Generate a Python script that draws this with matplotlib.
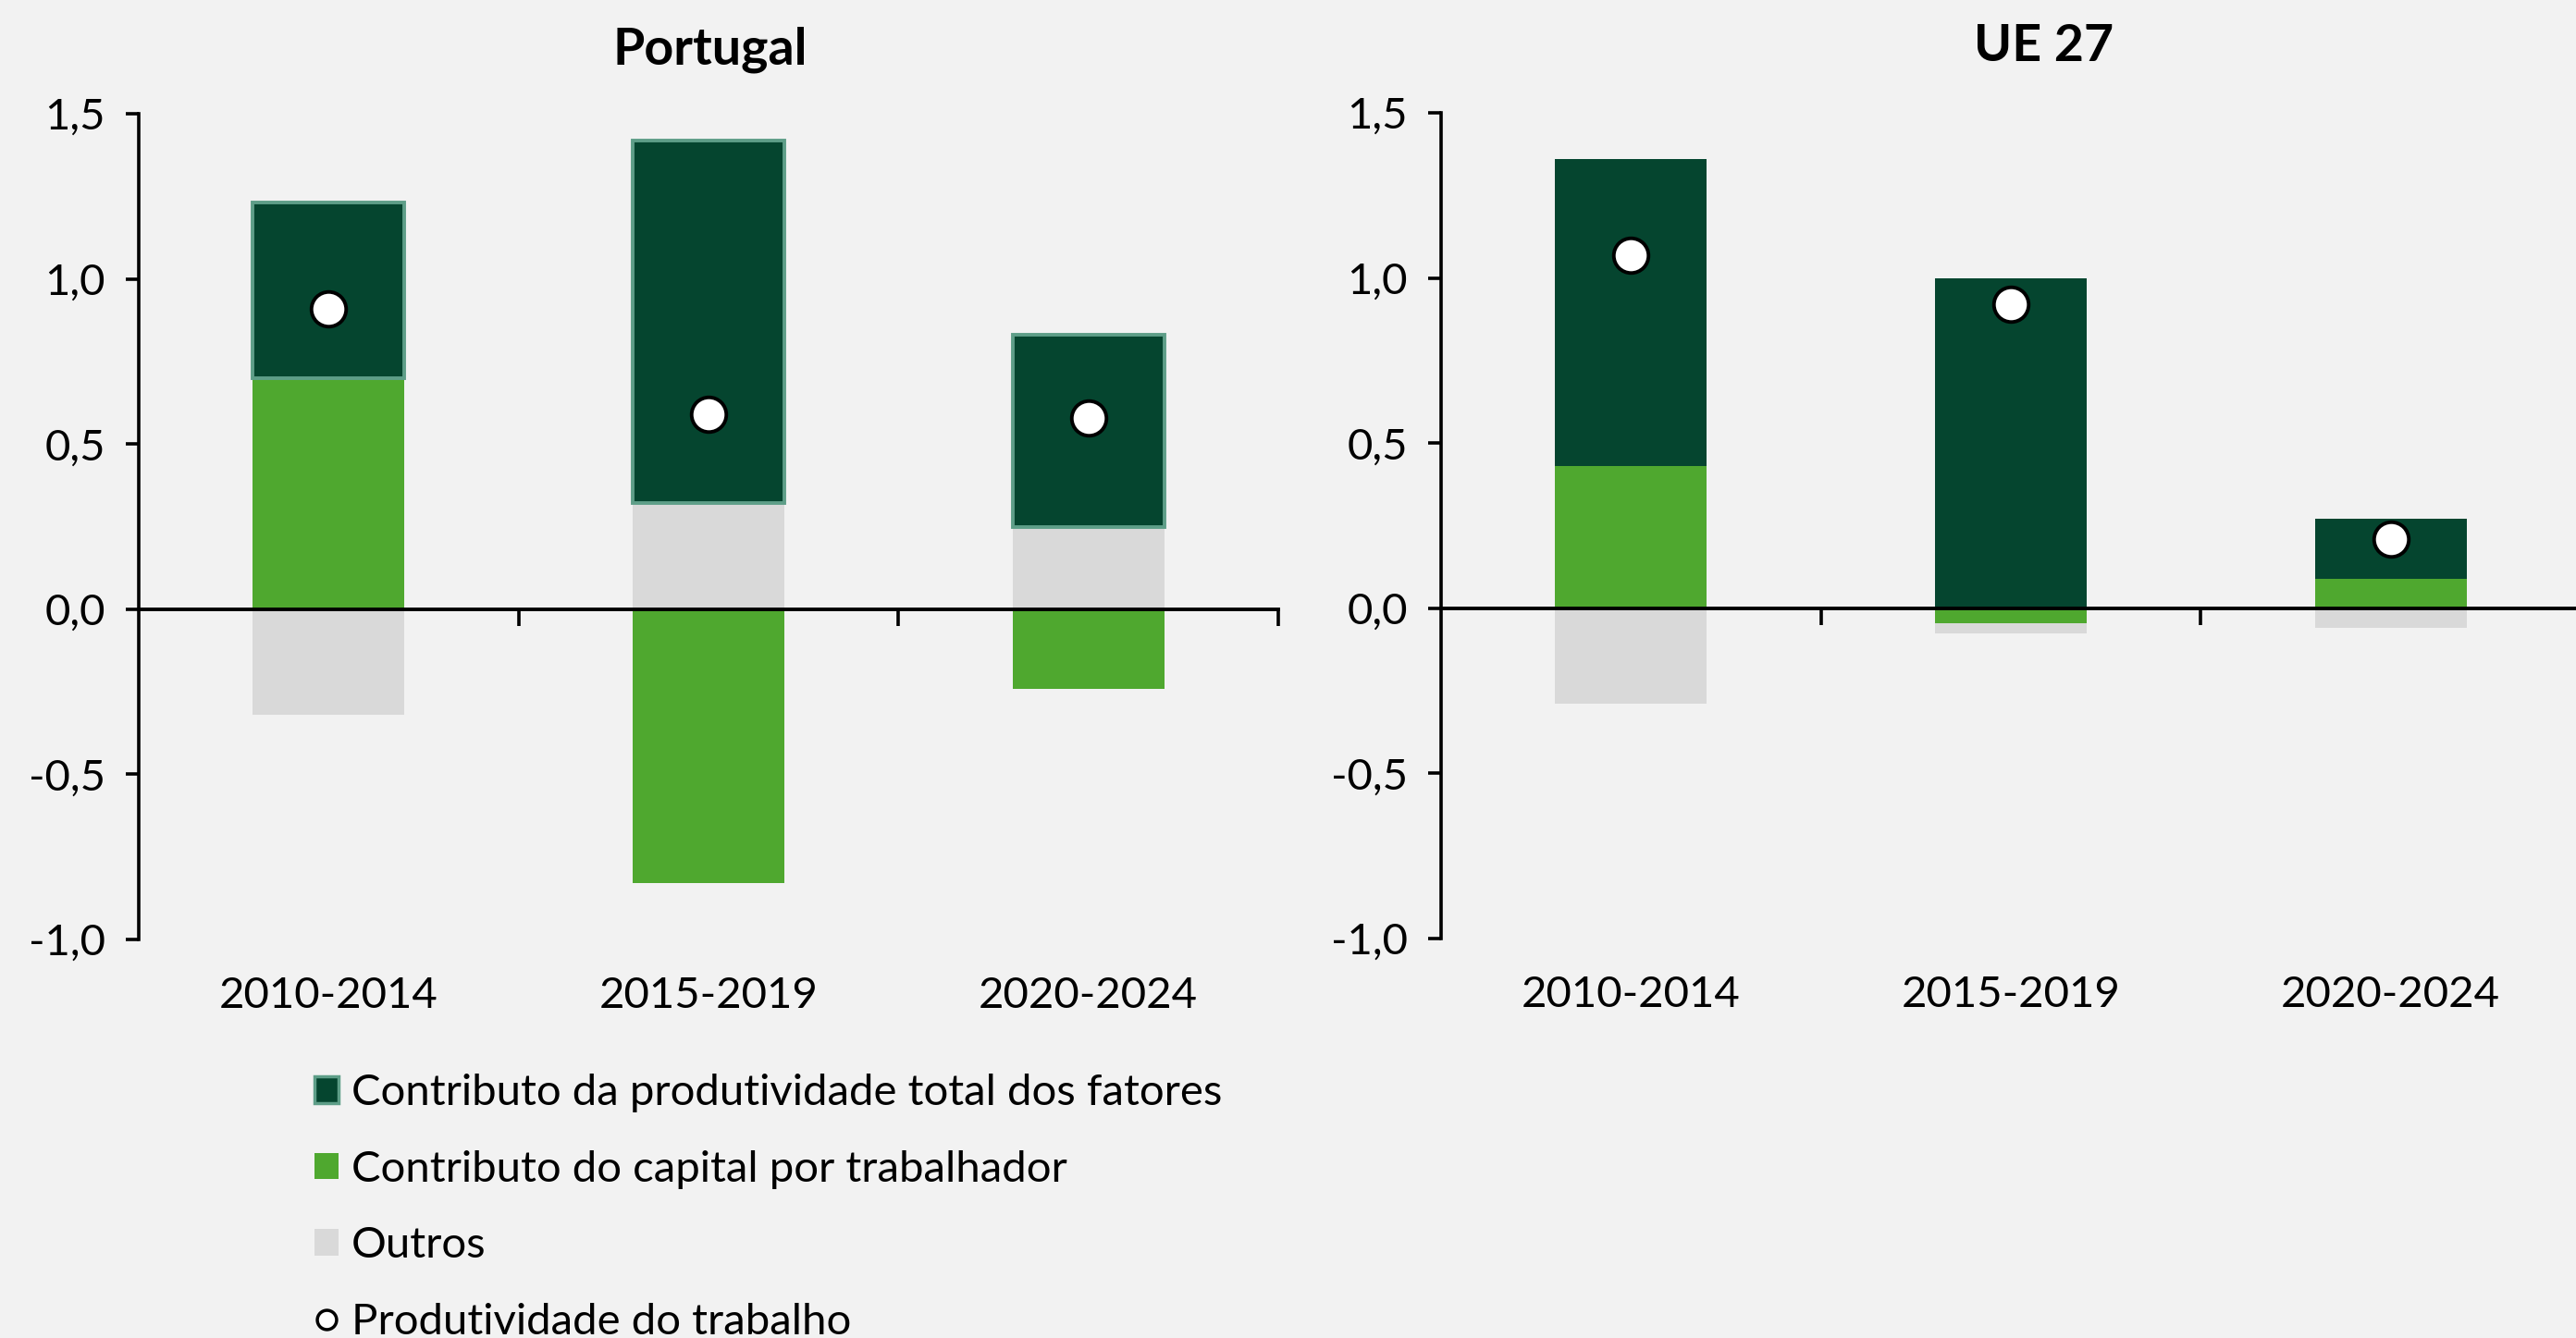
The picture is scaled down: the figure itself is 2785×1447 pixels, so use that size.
import matplotlib
matplotlib.use('Agg')
import matplotlib.pyplot as plt
from matplotlib.patches import Patch
from matplotlib.lines import Line2D
import numpy as np

# ---------------- data ----------------
periods = ['2010-2014', '2015-2019', '2020-2024']

pt_tfp = [0.53, 1.10, 0.58]
pt_cap = [0.70, -0.83, -0.24]
pt_out = [-0.32, 0.32, 0.25]
pt_prod = [0.91, 0.59, 0.58]

ue_tfp = [0.93, 1.00, 0.18]
ue_cap = [0.43, -0.045, 0.09]
ue_out = [-0.29, -0.03, -0.06]
ue_prod = [1.07, 0.92, 0.21]

yticks = [-1.0, -0.5, 0.0, 0.5, 1.0, 1.5]
ytick_labels = ['-1,0', '-0,5', '0,0', '0,5', '1,0', '1,5']

titles = ['Portugal', 'UE 27']
legend_labels = ['Contributo da produtividade total dos fatores',
                 'Contributo do capital por trabalhador',
                 'Outros',
                 'Produtividade do trabalho']

# ---------------- style ----------------
BG = '#f2f2f2'
C_TFP = '#05452f'
C_TFP_EDGE = '#5e9e88'
C_CAP = '#4fa82f'
C_OUT = '#d9d9d9'
FONT = ['Lato', 'DejaVu Sans']
FS = 34

plt.rcParams['font.family'] = FONT

fig = plt.figure(figsize=(27.85, 14.47), dpi=100, facecolor=BG)

ax_pt = fig.add_axes([150 / 2785, 1 - 1016 / 1447, 1232 / 2785, (1016 - 123) / 1447])
ax_ue = fig.add_axes([1558 / 2785, 1 - 1015 / 1447, 1232 / 2785, (1015 - 122) / 1447])


def draw(ax, tfp, cap, out, prod, tfp_edge):
    x = np.arange(len(periods))
    pos = np.zeros(len(periods))
    neg = np.zeros(len(periods))
    series = [(cap, C_CAP, 'none', 0), (out, C_OUT, 'none', 0),
              (tfp, C_TFP, tfp_edge, 2.8 if tfp_edge != 'none' else 0)]
    for vals, col, ec, lw in series:
        v = np.array(vals, dtype=float)
        bottom = np.where(v >= 0, pos, neg)
        ax.bar(x, v, bottom=bottom, width=0.4, color=col, edgecolor=ec,
               linewidth=lw, zorder=2)
        pos = pos + np.where(v >= 0, v, 0)
        neg = neg + np.where(v < 0, v, 0)
    ax.plot(x, prod, linestyle='none', marker='o', markersize=27,
            markerfacecolor='white', markeredgecolor='black',
            markeredgewidth=2.8, zorder=4)

    ax.set_facecolor('none')
    ax.set_xlim(-0.5, 2.5)
    ax.set_ylim(-1.0, 1.5)
    for s in ['top', 'right']:
        ax.spines[s].set_visible(False)
    ax.spines['bottom'].set_position(('data', 0))
    ax.spines['bottom'].set_linewidth(2.8)
    ax.spines['bottom'].set_zorder(3)
    ax.spines['left'].set_linewidth(2.6)

    ax.set_yticks(yticks)
    ax.set_yticklabels(ytick_labels)
    ax.tick_params(axis='y', direction='out', length=10, width=2.6,
                   labelsize=FS, pad=16)
    ax.set_xticks([])
    ax.set_xticks([0.5, 1.5, 2.5], minor=True)
    ax.tick_params(axis='x', which='minor', direction='out', length=13,
                   width=2.6, labelbottom=False)

    sec = ax.secondary_xaxis(0)
    sec.set_xticks(np.arange(len(periods)))
    sec.set_xticklabels(periods)
    sec.tick_params(length=0, labelsize=FS, pad=29)
    sec.spines['bottom'].set_visible(False)


draw(ax_pt, pt_tfp, pt_cap, pt_out, pt_prod, C_TFP_EDGE)
draw(ax_ue, ue_tfp, ue_cap, ue_out, ue_prod, 'none')

fig.text(768 / 2785, 1 - 54 / 1447, titles[0], ha='center', va='center',
         fontsize=40, fontweight='bold')
fig.text(2210 / 2785, 1 - 50 / 1447, titles[1], ha='center', va='center',
         fontsize=40, fontweight='bold')

handles = [Patch(facecolor=C_TFP, edgecolor=C_TFP_EDGE, linewidth=2.5),
           Patch(facecolor=C_CAP, edgecolor='none'),
           Patch(facecolor=C_OUT, edgecolor='none'),
           Line2D([], [], linestyle='none', marker='o', markersize=15,
                  markerfacecolor='white', markeredgecolor='black',
                  markeredgewidth=2.5)]
fig.legend(handles, legend_labels, loc='upper left',
           bbox_to_anchor=(340 / 2785, 1 - 1161 / 1447), frameon=False,
           fontsize=FS, handlelength=0.55, handleheight=0.55,
           handletextpad=0.3, labelspacing=0.86, borderpad=0, borderaxespad=0)

fig.savefig('out.png', dpi=100, facecolor=BG)
